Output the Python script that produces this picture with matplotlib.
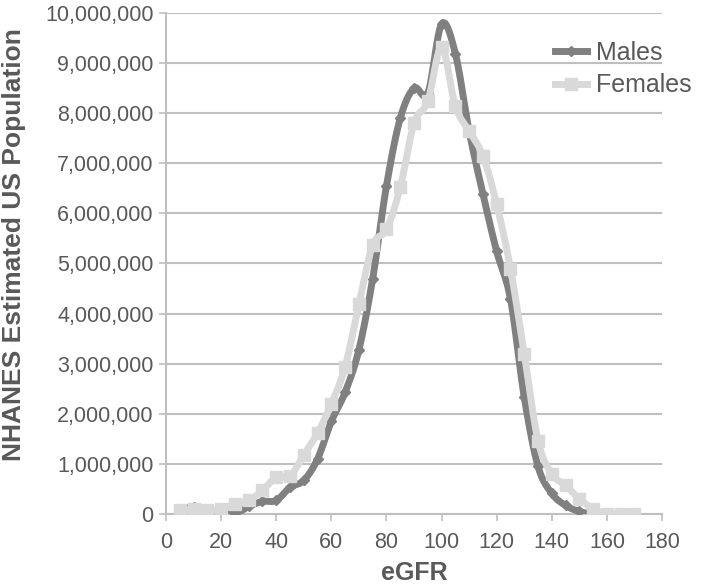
import numpy as np
import matplotlib
matplotlib.use('Agg')
import matplotlib.pyplot as plt
from matplotlib.ticker import FuncFormatter

plt.rcParams['font.family'] = ['Liberation Sans', 'DejaVu Sans']

# eGFR bins and estimated population counts
egfr_males = [5, 10, 15, 20, 25, 30, 35, 40, 45, 50, 55, 60, 65, 70, 75, 80, 85,
              90, 95, 100, 105, 110, 115, 120, 125, 130, 135, 140, 145, 150, 155, 160]
males = [0.05e6, 0.14e6, 0.02e6, 0.02e6, 0.0, 0.15e6, 0.25e6, 0.27e6, 0.53e6, 0.67e6,
         1.1e6, 1.85e6, 2.43e6, 3.28e6, 4.7e6, 6.55e6, 7.9e6, 8.5e6, 8.4e6, 9.78e6,
         9.19e6, 7.64e6, 6.39e6, 5.24e6, 4.29e6, 2.33e6, 0.95e6, 0.41e6, 0.17e6,
         0.05e6, 0.0, 0.0]

egfr_females = [5, 10, 15, 20, 25, 30, 35, 40, 45, 50, 55, 60, 65, 70, 75, 80, 85,
                90, 95, 100, 105, 110, 115, 120, 125, 130, 135, 140, 145, 150, 155,
                160, 165, 170]
females = [0.07e6, 0.1e6, 0.07e6, 0.1e6, 0.2e6, 0.27e6, 0.47e6, 0.74e6, 0.76e6, 1.18e6,
           1.62e6, 2.2e6, 2.94e6, 4.19e6, 5.37e6, 5.68e6, 6.52e6, 7.8e6, 8.24e6, 9.32e6,
           8.14e6, 7.64e6, 7.15e6, 6.18e6, 4.9e6, 3.2e6, 1.46e6, 0.8e6, 0.57e6, 0.3e6,
           0.1e6, 0.0, 0.0, 0.0]


def smooth(x, y, n=20):
    # Catmull-Rom curve through the points, like Excel's smoothed line
    x = np.asarray(x, float)
    y = np.asarray(y, float)
    px = np.concatenate([[x[0]], x, [x[-1]]])
    py = np.concatenate([[y[0]], y, [y[-1]]])
    xs, ys = [], []
    t = np.linspace(0, 1, n, endpoint=False)
    for i in range(1, len(px) - 2):
        for p, out in ((px, xs), (py, ys)):
            p0, p1, p2, p3 = p[i - 1], p[i], p[i + 1], p[i + 2]
            out.extend(0.5 * (2 * p1 + (-p0 + p2) * t + (2 * p0 - 5 * p1 + 4 * p2 - p3) * t ** 2
                              + (-p0 + 3 * p1 - 3 * p2 + p3) * t ** 3))
    xs.append(x[-1])
    ys.append(y[-1])
    return np.array(xs), np.array(ys)


text_col = '#595959'
grid_col = '#bfbfbf'
male_col = '#808080'
female_col = '#d9d9d9'
lw = 5

fig = plt.figure(figsize=(7.2, 5.86), dpi=100)
ax = fig.add_axes([0.2306, 0.1229, 0.6889, 0.8549])

mx, my = smooth(egfr_males, males)
ax.plot(mx, my, color=male_col, linewidth=lw, solid_capstyle='round', zorder=3)
ax.plot(egfr_males, males, linestyle='none', marker='D', markersize=5.5,
        color=male_col, zorder=3)

fx, fy = smooth(egfr_females, females)
ax.plot(fx, fy, color=female_col, linewidth=lw, solid_capstyle='round', zorder=4)
ax.plot(egfr_females, females, linestyle='none', marker='s', markersize=8.5,
        color=female_col, zorder=4)

# legend handles
ax.plot([], [], color=male_col, linewidth=lw, marker='D', markersize=5.5, label='Males')
ax.plot([], [], color=female_col, linewidth=lw, marker='s', markersize=8.5, label='Females')
leg = ax.legend(loc='upper right', bbox_to_anchor=(1.09, 0.975), frameon=False,
                fontsize=18, handlelength=1.3, handletextpad=0.35, labelspacing=0.35,
                borderaxespad=0.2)
for t in leg.get_texts():
    t.set_color(text_col)

ax.set_xlim(0, 180)
ax.set_ylim(0, 10e6)
ax.set_xticks(np.arange(0, 181, 20))
ax.set_yticks(np.arange(0, 10e6 + 1, 1e6))
ax.yaxis.set_major_formatter(FuncFormatter(lambda v, p: f'{int(v):,}'))
ax.grid(axis='y', color=grid_col, linewidth=1.5)
ax.set_axisbelow(True)

for s in ['top', 'right']:
    ax.spines[s].set_visible(False)
for s in ['left', 'bottom']:
    ax.spines[s].set_color(grid_col)
    ax.spines[s].set_linewidth(1.5)

ax.tick_params(colors=grid_col, labelcolor=text_col, labelsize=15.5, length=5, width=1.2,
               pad=4)
ax.tick_params(axis='x', pad=8)
ax.set_xlabel('eGFR', fontsize=18, fontweight='bold', color=text_col, labelpad=6)
ax.set_ylabel('NHANES Estimated US Population', fontsize=19, fontweight='bold',
              color=text_col)
ax.yaxis.set_label_coords(-0.282, 0.537)

fig.savefig('out.png', dpi=100)
